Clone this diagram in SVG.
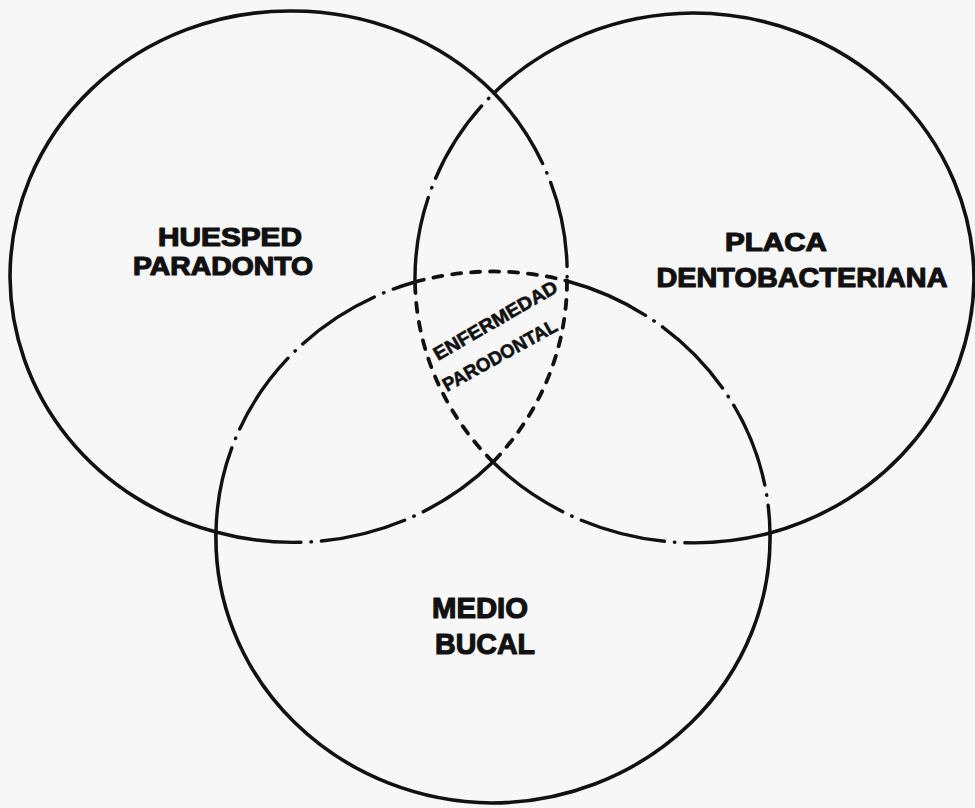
<svg xmlns="http://www.w3.org/2000/svg" width="975" height="808" viewBox="0 0 975 808">
<style>
.solid{fill:none;stroke:#111;stroke-width:3.6;stroke-linecap:round}
.dd{fill:none;stroke:#111;stroke-width:3.4;stroke-linecap:round;stroke-dasharray:86 10 0.5 10}
.dash{fill:none;stroke:#111;stroke-width:3.8;stroke-linecap:round;stroke-dasharray:9 10}
.lbl{font-family:"Liberation Sans",Arial,sans-serif;font-weight:bold;fill:#111;stroke:#111;stroke-width:1.2;stroke-linejoin:round;text-anchor:middle}
.small{font-family:"Liberation Sans",Arial,sans-serif;font-weight:bold;fill:#111;stroke:#111;stroke-width:0.6;font-size:19px}
</style>
<rect x="0" y="0" width="975" height="808" fill="#f7f7f7"/>
<g id="huesped-paradonto">
<path class="solid" d="M216,532 A279,266 0 0 1 10,277 A279,266 0 0 1 289,11 A279,266 0 0 1 494,93"/>
<path class="dd" d="M494,93 A279,266 0 0 1 567,281"/>
<path class="dash" d="M567,281 A279,266 0 0 1 493,462"/>
<path class="dd" d="M493,462 A279,266 0 0 1 216,532"/>
<text class="lbl" x="230" y="246" font-size="26" textLength="144" lengthAdjust="spacingAndGlyphs">HUESPED</text>
<text class="lbl" x="223" y="275" font-size="26" textLength="180" lengthAdjust="spacingAndGlyphs">PARADONTO</text>
</g>
<g id="placa-dentobacteriana">
<path class="solid" d="M494,93 A281,267 0 0 1 693,13 A281,267 0 0 1 974,280 A281,267 0 0 1 770,533"/>
<path class="dd" d="M770,533 A281,267 0 0 1 493,462"/>
<path class="dash" d="M493,462 A281,267 0 0 1 415,282"/>
<path class="dd" d="M415,282 A281,267 0 0 1 494,93"/>
<text class="lbl" x="776" y="251" font-size="26" textLength="102" lengthAdjust="spacingAndGlyphs">PLACA</text>
<text class="lbl" x="802" y="287" font-size="28" textLength="291" lengthAdjust="spacingAndGlyphs">DENTOBACTERIANA</text>
</g>
<g id="medio-bucal">
<path class="dd" d="M216,532 A279,265 0 0 1 415,282"/>
<path class="dash" d="M415,282 A279,265 0 0 1 567,281"/>
<path class="dd" d="M567,281 A279,265 0 0 1 770,533"/>
<path class="solid" d="M770,533 A279,265 0 0 1 492,803 A279,265 0 0 1 216,532"/>
<text class="lbl" x="480" y="618" font-size="30" textLength="96" lengthAdjust="spacingAndGlyphs">MEDIO</text>
<text class="lbl" x="485" y="654" font-size="30" textLength="100" lengthAdjust="spacingAndGlyphs">BUCAL</text>
</g>
<g id="enfermedad-parodontal">
<text class="small" x="438" y="361" transform="rotate(-30 438 361)" textLength="140" lengthAdjust="spacingAndGlyphs">ENFERMEDAD</text>
<text class="small" x="447" y="392" transform="rotate(-29 447 392)" textLength="128" lengthAdjust="spacingAndGlyphs">PARODONTAL</text>
</g>
</svg>
